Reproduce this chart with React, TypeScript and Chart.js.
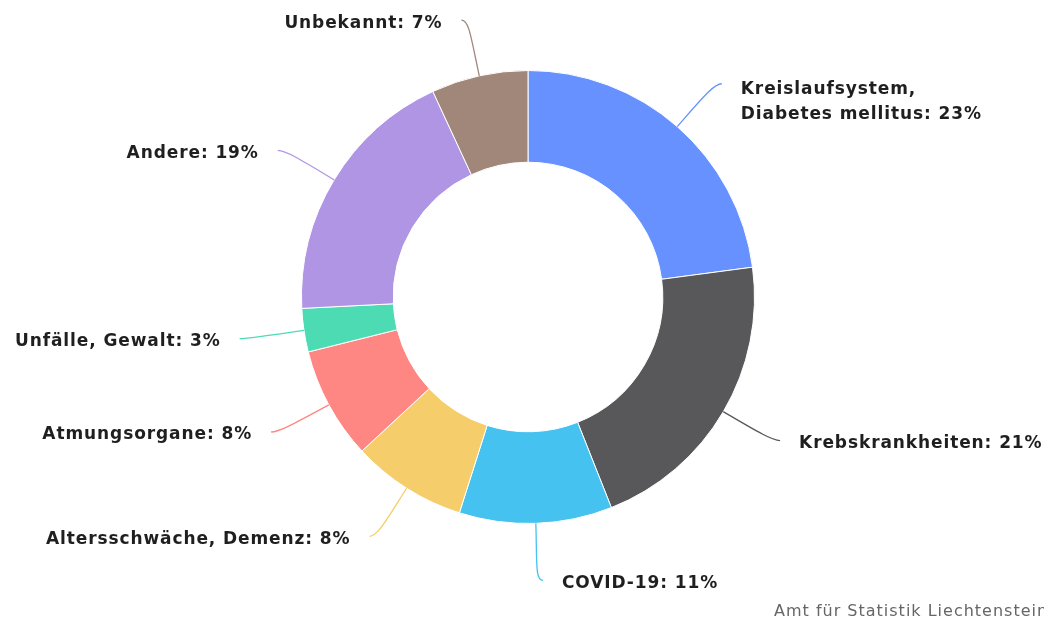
import React, { useEffect, useRef } from "react";
import { Chart, registerables } from "chart.js";

Chart.register(...registerables);

const categories = [
  "Kreislaufsystem,\nDiabetes mellitus",
  "Krebskrankheiten",
  "COVID-19",
  "Altersschwäche, Demenz",
  "Atmungsorgane",
  "Unfälle, Gewalt",
  "Andere",
  "Unbekannt",
];
const values = [22.9, 21.1, 10.9, 8.2, 8.0, 3.1, 18.9, 6.9];
const colors = [
  "#6691FF",
  "#58585B",
  "#45C2F0",
  "#F5CD6A",
  "#FF8783",
  "#4DDBB4",
  "#B095E5",
  "#A0877A",
];
const creditText = "Amt für Statistik Liechtenstein";

const labelPlugin = {
  id: "outsideLabels",
  afterDraw(chart: any) {
    const ctx = chart.ctx as CanvasRenderingContext2D;
    const meta = chart.getDatasetMeta(0);
    const data = chart.data.datasets[0].data as number[];
    const total = data.reduce((a, b) => a + b, 0);
    ctx.save();
    meta.data.forEach((arc: any, i: number) => {
      const a = (arc.startAngle + arc.endAngle) / 2;
      const R = arc.outerRadius;
      const cx = arc.x;
      const cy = arc.y;
      const cos = Math.cos(a);
      const sin = Math.sin(a);
      const side = cos >= 0 ? 1 : -1;
      const sx = cx + cos * R;
      const sy = cy + sin * R;
      const ex = cx + cos * (R + 60) + side * 5;
      const ey = cy + sin * (R + 57);
      const c1x = cx + cos * (R + 38);
      const c1y = cy + sin * (R + 38);
      const c2x = ex - side * 8;
      const c2y = ey;
      ctx.beginPath();
      ctx.moveTo(sx, sy);
      ctx.bezierCurveTo(c1x, c1y, c2x, c2y, ex, ey);
      ctx.strokeStyle = colors[i];
      ctx.lineWidth = 1.3;
      ctx.stroke();

      const pct = Math.round((data[i] / total) * 100);
      const lines = (categories[i] + ": " + pct + "%").split("\n");
      ctx.font = "bold 17px 'DejaVu Sans'";
      (ctx as any).letterSpacing = "0.9px";
      ctx.fillStyle = "#1f1f1f";
      ctx.textBaseline = "middle";
      ctx.textAlign = side > 0 ? "left" : "right";
      const tx = ex + side * 19;
      const baseY = lines.length > 1 ? ey + 6 : ey + 3;
      lines.forEach((ln, k) => {
        ctx.fillText(ln, tx, baseY + k * 25);
      });
    });
    ctx.font = "16px 'DejaVu Sans'";
    (ctx as any).letterSpacing = "1px";
    ctx.fillStyle = "#666666";
    ctx.textAlign = "left";
    ctx.textBaseline = "alphabetic";
    ctx.fillText(creditText, 774, 616);
    ctx.restore();
  },
};

export default function App() {
  const ref = useRef<HTMLCanvasElement | null>(null);
  useEffect(() => {
    if (!ref.current) return;
    const chart = new Chart(ref.current, {
      type: "doughnut",
      data: {
        labels: categories,
        datasets: [
          {
            data: values,
            backgroundColor: colors,
            borderColor: "#ffffff",
            borderWidth: 1,
          },
        ],
      },
      options: {
        responsive: false,
        animation: false,
        cutout: "59.5%",
        layout: { padding: { left: 301, right: 289, top: 70, bottom: 96 } },
        plugins: {
          legend: { display: false },
          tooltip: { enabled: false },
        },
      },
      plugins: [labelPlugin],
    });
    return () => chart.destroy();
  }, []);
  return (
    <div style={{ position: "fixed", left: 0, top: 0, width: 1044, height: 620, background: "#ffffff" }}>
      <canvas ref={ref} width={1044} height={620} style={{ display: "block" }} />
    </div>
  );
}
